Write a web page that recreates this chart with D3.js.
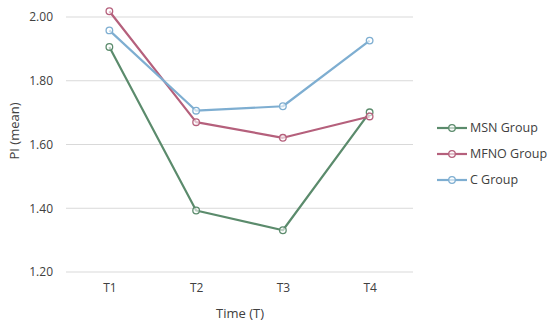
<!DOCTYPE html>
<html><head><meta charset="utf-8">
<script src="https://cdn.jsdelivr.net/npm/d3@7"></script>
<style>body{margin:0;background:#fff;}svg{display:block;font-family:"Open Sans","Noto Sans",sans-serif;}</style>
</head><body>
<svg id="chart" width="550" height="329"></svg>
<script>
const categories = ["T1","T2","T3","T4"];
const msn  = [1.906, 1.393, 1.331, 1.701];
const mfno = [2.018, 1.670, 1.621, 1.688];
const cgrp = [1.958, 1.706, 1.720, 1.926];
const yTicks = [1.20, 1.40, 1.60, 1.80, 2.00];
const seriesNames = ["MSN Group","MFNO Group","C Group"];
const seriesColors = ["#5b8b6c","#b5607c","#7eaed1"];
const seriesValues = [msn, mfno, cgrp];

(function(){
const svg = d3.select("#chart");
const pL = 66, pR = 413, pT = 17, pB = 272;
const x = d3.scalePoint().domain(categories).range([pL, pR]).padding(0.5);
const y = d3.scaleLinear().domain([1.2, 2.0]).range([pB, pT]);

// gridlines
svg.append("g").selectAll("line").data(yTicks).join("line")
  .attr("x1", pL).attr("x2", pR)
  .attr("y1", d => y(d)).attr("y2", d => y(d))
  .attr("stroke", "#d9d9d9").attr("stroke-width", 1);

// y axis labels
const yAxis = d3.axisLeft(y).tickValues(yTicks).tickFormat(d3.format(".2f")).tickSize(0).tickPadding(0);
const gy = svg.append("g").attr("transform", `translate(${53},0)`).call(yAxis);
gy.select(".domain").remove();
gy.selectAll("text").attr("font-size", 12).attr("fill", "#404040").attr("font-family", "'Open Sans','Noto Sans',sans-serif");

// x axis labels
const xAxis = d3.axisBottom(x).tickSize(0).tickPadding(0);
const gx = svg.append("g").attr("transform", `translate(0,${283})`).call(xAxis);
gx.select(".domain").remove();
gx.selectAll("text").attr("font-size", 12).attr("fill", "#404040").attr("font-family", "'Open Sans','Noto Sans',sans-serif");

// axis titles
svg.append("text").attr("x", 240).attr("y", 318).attr("text-anchor", "middle")
  .attr("font-size", 13).attr("fill", "#404040").text("Time (T)");
svg.append("text").attr("transform", "translate(19,131) rotate(-90)").attr("text-anchor", "middle")
  .attr("font-size", 13).attr("fill", "#404040").text("PI (mean)");

// lines
const line = d3.line().x((d, i) => x(categories[i])).y(d => y(d));
seriesValues.forEach((vals, s) => {
  svg.append("path").datum(vals).attr("d", line)
    .attr("fill", "none").attr("stroke", seriesColors[s]).attr("stroke-width", 2.2)
    .attr("stroke-linejoin", "round");
  svg.append("g").selectAll("circle").data(vals).join("circle")
    .attr("cx", (d, i) => x(categories[i])).attr("cy", d => y(d)).attr("r", 3.3)
    .attr("fill", "#fff").attr("fill-opacity", 0.6).attr("stroke", seriesColors[s]).attr("stroke-width", 1.3);
});

// legend
const lg = svg.append("g");
seriesNames.forEach((name, s) => {
  const ly = 128 + s * 26;
  lg.append("line").attr("x1", 437).attr("x2", 467).attr("y1", ly).attr("y2", ly)
    .attr("stroke", seriesColors[s]).attr("stroke-width", 2.2);
  lg.append("circle").attr("cx", 452).attr("cy", ly).attr("r", 3.3)
    .attr("fill", "#fff").attr("fill-opacity", 0.6).attr("stroke", seriesColors[s]).attr("stroke-width", 1.3);
  lg.append("text").attr("x", 470).attr("y", ly).attr("dy", "0.35em")
    .attr("font-size", 12.5).attr("fill", "#404040").text(name);
});
})();
</script>
</body></html>
